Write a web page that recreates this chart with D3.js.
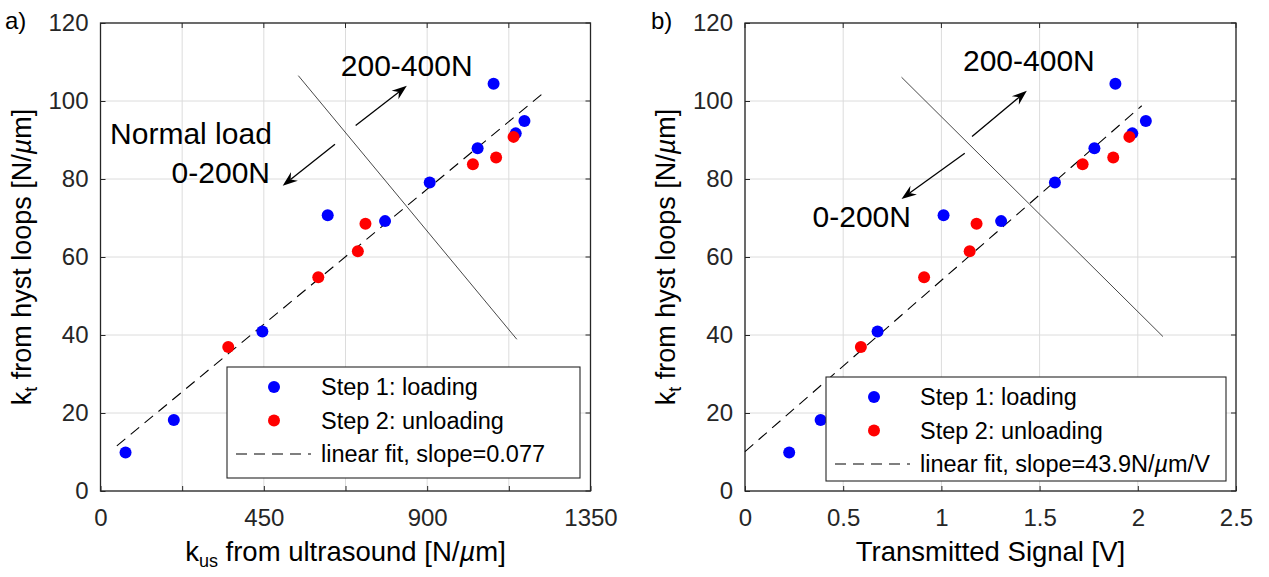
<!DOCTYPE html>
<html><head><meta charset="utf-8">
<script src="https://cdn.jsdelivr.net/npm/d3@7"></script>
<style>
html,body{margin:0;padding:0;background:#fff;}
svg{display:block;font-family:"Liberation Sans",Arial,sans-serif;}
</style></head>
<body><svg id="c" width="1269" height="577"></svg>
<script>
// ---------- data ----------
const kLoad   = [9.9, 18.2, 40.9, 70.7, 69.2, 79.1, 87.9, 104.4, 91.7, 94.9];   // k_t, step 1 loading
const kUnload = [36.9, 54.8, 61.5, 68.5, 83.8, 85.5, 90.8];                      // k_t, step 2 unloading
const kusLoad   = [69, 202, 446, 626, 784, 907, 1039, 1083, 1144, 1168];
const kusUnload = [352, 600, 709, 730, 1026, 1090, 1138];
const vLoad   = [0.225, 0.385, 0.675, 1.011, 1.304, 1.578, 1.779, 1.886, 1.972, 2.041];
const vUnload = [0.590, 0.912, 1.144, 1.179, 1.719, 1.875, 1.957];

const xTicksA = [0, 225, 450, 675, 900, 1125, 1350];
const xLabelsA = [0, 450, 900, 1350];
const xTicksB = [0, 0.5, 1, 1.5, 2, 2.5];
const yTicks = [0, 20, 40, 60, 80, 100, 120];

const fitA = {slope: 0.077, intercept: 8.1, x: [45, 1215]};
const fitB = {slope: 43.9, intercept: 10.1, x: [0, 2.02]};

const dividerA = [[545, 106.5], [1147, 38.9]];
const dividerB = [[0.797, 106.1], [2.128, 39.6]];
const arrowsA = [[[703, 93.7], [844, 103.9]], [[646, 88.9], [502, 78.3]]];
const arrowsB = [[[1.156, 90.9], [1.435, 102.6]], [[1.119, 86.6], [0.797, 74.9]]];
const textsA = [{t: "200-400N", x: 662, y: 106.3, a: "start"}, {t: "Normal load", x: 472, y: 88.9, a: "end"}, {t: "0-200N", x: 467, y: 79, a: "end"}];
const textsB = [{t: "200-400N", x: 1.110, y: 107.7, a: "start"}, {t: "0-200N", x: 0.344, y: 67.8, a: "start"}];

// ---------- drawing ----------
const svg = d3.select("#c");
const plotTop = 23, plotBottom = 491;
const y = d3.scaleLinear().domain([0, 120]).range([plotBottom, plotTop]);
const axisCol = "#262626";

function panel(opt) {
  const x = d3.scaleLinear().domain(opt.xDomain).range([opt.x0, opt.x1]);
  const g = svg.append("g");
  // grid
  g.selectAll(".gx").data(opt.xTicks).enter().append("line")
    .attr("x1", d => x(d)).attr("x2", d => x(d)).attr("y1", plotTop).attr("y2", plotBottom)
    .attr("stroke", "#dcdcdc").attr("stroke-width", 1);
  g.selectAll(".gy").data(yTicks).enter().append("line")
    .attr("x1", opt.x0).attr("x2", opt.x1).attr("y1", d => y(d)).attr("y2", d => y(d))
    .attr("stroke", "#dcdcdc").attr("stroke-width", 1);
  // axes via d3
  const xa = d3.axisBottom(x).tickValues(opt.xTicks).tickSizeInner(-5).tickSizeOuter(0)
    .tickFormat(d => opt.xLabels.includes(d) ? d3.format("~g")(d) : "").tickPadding(18);
  const gx = g.append("g").attr("transform", `translate(0,${plotBottom})`).call(xa);
  const ya = d3.axisLeft(y).tickValues(yTicks).tickSizeInner(-5).tickSizeOuter(0).tickPadding(12);
  const gy = g.append("g").attr("transform", `translate(${opt.x0},0)`).call(ya);
  [gx, gy].forEach(a => {
    a.select(".domain").remove();
    a.selectAll("line").attr("stroke", axisCol);
    a.selectAll("text").attr("fill", "#262626").style("font-size", "24px")
      .style("font-family", "'Liberation Sans',Arial,sans-serif");
  });
  gx.selectAll("text").attr("dy", "0.71em");
  // top/right ticks
  g.selectAll(".tt").data(opt.xTicks).enter().append("line")
    .attr("x1", d => x(d)).attr("x2", d => x(d)).attr("y1", plotTop).attr("y2", plotTop + 5).attr("stroke", axisCol);
  g.selectAll(".tr").data(yTicks).enter().append("line")
    .attr("x1", opt.x1).attr("x2", opt.x1 - 5).attr("y1", d => y(d)).attr("y2", d => y(d)).attr("stroke", axisCol);
  // box
  g.append("rect").attr("x", opt.x0).attr("y", plotTop).attr("width", opt.x1 - opt.x0).attr("height", plotBottom - plotTop)
    .attr("fill", "none").attr("stroke", axisCol).attr("stroke-width", 1.3);

  // divider line
  g.append("line").attr("x1", x(opt.divider[0][0])).attr("y1", y(opt.divider[0][1]))
    .attr("x2", x(opt.divider[1][0])).attr("y2", y(opt.divider[1][1]))
    .attr("stroke", "#333").attr("stroke-width", 0.9);
  // arrows
  opt.arrows.forEach(([s, e]) => {
    const sx = x(s[0]), sy = y(s[1]), ex = x(e[0]), ey = y(e[1]);
    const ang = Math.atan2(ey - sy, ex - sx);
    const L = 15, W = 5.5, notch = 10;
    const bx = ex - notch * Math.cos(ang), by = ey - notch * Math.sin(ang);
    g.append("line").attr("x1", sx).attr("y1", sy).attr("x2", bx).attr("y2", by)
      .attr("stroke", "#000").attr("stroke-width", 1.3);
    const px = -Math.sin(ang), py = Math.cos(ang);
    const cx = ex - L * Math.cos(ang), cy = ey - L * Math.sin(ang);
    g.append("path").attr("d", `M${ex},${ey}L${cx + W * px},${cy + W * py}L${bx},${by}L${cx - W * px},${cy - W * py}Z`)
      .attr("fill", "#000");
  });
  // annotation texts
  opt.texts.forEach(t => {
    g.append("text").attr("x", x(t.x)).attr("y", y(t.y)).attr("text-anchor", t.a)
      .style("font-size", "30px").attr("fill", "#000").text(t.t);
  });
  // fit line
  const fx = opt.fit.x;
  g.append("line").attr("x1", x(fx[0])).attr("y1", y(opt.fit.slope * fx[0] + opt.fit.intercept))
    .attr("x2", x(fx[1])).attr("y2", y(opt.fit.slope * fx[1] + opt.fit.intercept))
    .attr("stroke", "#000").attr("stroke-width", 1.1).attr("stroke-dasharray", "11,7");
  // points
  const drawPts = (xs, ys, col) => g.selectAll(null).data(xs.map((v, i) => [v, ys[i]])).enter().append("circle")
    .attr("cx", d => x(d[0])).attr("cy", d => y(d[1])).attr("r", 6).attr("fill", col);
  drawPts(opt.loadX, kLoad, "#0000ff");
  drawPts(opt.unloadX, kUnload, "#ff0000");

  // legend
  const L = opt.legend;
  g.append("rect").attr("x", L.x).attr("y", L.y).attr("width", L.w).attr("height", L.h)
    .attr("fill", "#fff").attr("stroke", axisCol).attr("stroke-width", 1.1);
  const rows = [L.y + 20, L.y + 53.5, L.y + 87];
  g.append("circle").attr("cx", L.mx).attr("cy", rows[0]).attr("r", 6).attr("fill", "#0000ff");
  g.append("circle").attr("cx", L.mx).attr("cy", rows[1]).attr("r", 6).attr("fill", "#ff0000");
  g.append("line").attr("x1", L.x + 9).attr("x2", L.tx - 10).attr("y1", rows[2]).attr("y2", rows[2])
    .attr("stroke", "#000").attr("stroke-width", 1.1).attr("stroke-dasharray", "11,7");
  const lt = (row, fn) => { const t = g.append("text").attr("x", L.tx).attr("y", row).attr("dy", "0.36em")
      .style("font-size", "23.5px").attr("fill", "#000"); fn(t); };
  lt(rows[0], t => t.text("Step 1: loading"));
  lt(rows[1], t => t.text("Step 2: unloading"));
  lt(rows[2], t => {
    t.append("tspan").text(opt.fitLabel[0]);
    if (opt.fitLabel.length > 1) {
      t.append("tspan").style("font-style", "italic").text("µ");
      t.append("tspan").text(opt.fitLabel[1]);
    }
  });

  // x label
  const xl = g.append("text").attr("x", (opt.x0 + opt.x1) / 2).attr("y", 561).attr("text-anchor", "middle")
    .style("font-size", "27.5px").attr("fill", "#000");
  opt.xLabel(xl);
  // y label
  const yl = g.append("text").attr("transform", `translate(${opt.x0 - 70},${(plotTop + plotBottom) / 2}) rotate(-90)`)
    .attr("text-anchor", "middle").style("font-size", "27px").attr("fill", "#000");
  yl.append("tspan").text("k");
  yl.append("tspan").attr("dy", 6).style("font-size", "18px").text("t");
  yl.append("tspan").attr("dy", -6).text(" from hyst loops [N/");
  yl.append("tspan").style("font-style", "italic").text("µ");
  yl.append("tspan").text("m]");
  // panel label
  svg.append("text").attr("x", opt.labelX).attr("y", 29).style("font-size", "24px").attr("fill", "#000").text(opt.label);
}

panel({
  x0: 100.5, x1: 590.5, xDomain: [0, 1350], xTicks: xTicksA, xLabels: xLabelsA,
  loadX: kusLoad, unloadX: kusUnload, fit: fitA, divider: dividerA, arrows: arrowsA, texts: textsA,
  legend: {x: 227, y: 367, w: 353, h: 111, mx: 274, tx: 321},
  fitLabel: ["linear fit, slope=0.077"],
  xLabel: t => { t.append("tspan").text("k"); t.append("tspan").attr("dy", 6).style("font-size", "18px").text("us");
    t.append("tspan").attr("dy", -6).text(" from ultrasound [N/"); t.append("tspan").style("font-style", "italic").text("µ");
    t.append("tspan").text("m]"); },
  label: "a)", labelX: 5
});
panel({
  x0: 745, x1: 1236, xDomain: [0, 2.5], xTicks: xTicksB, xLabels: xTicksB,
  loadX: vLoad, unloadX: vUnload, fit: fitB, divider: dividerB, arrows: arrowsB, texts: textsB,
  legend: {x: 826, y: 377, w: 400, h: 104, mx: 874, tx: 920},
  fitLabel: ["linear fit, slope=43.9N/", "m/V"],
  xLabel: t => t.text("Transmitted Signal [V]"),
  label: "b)", labelX: 651
});
</script></body></html>
